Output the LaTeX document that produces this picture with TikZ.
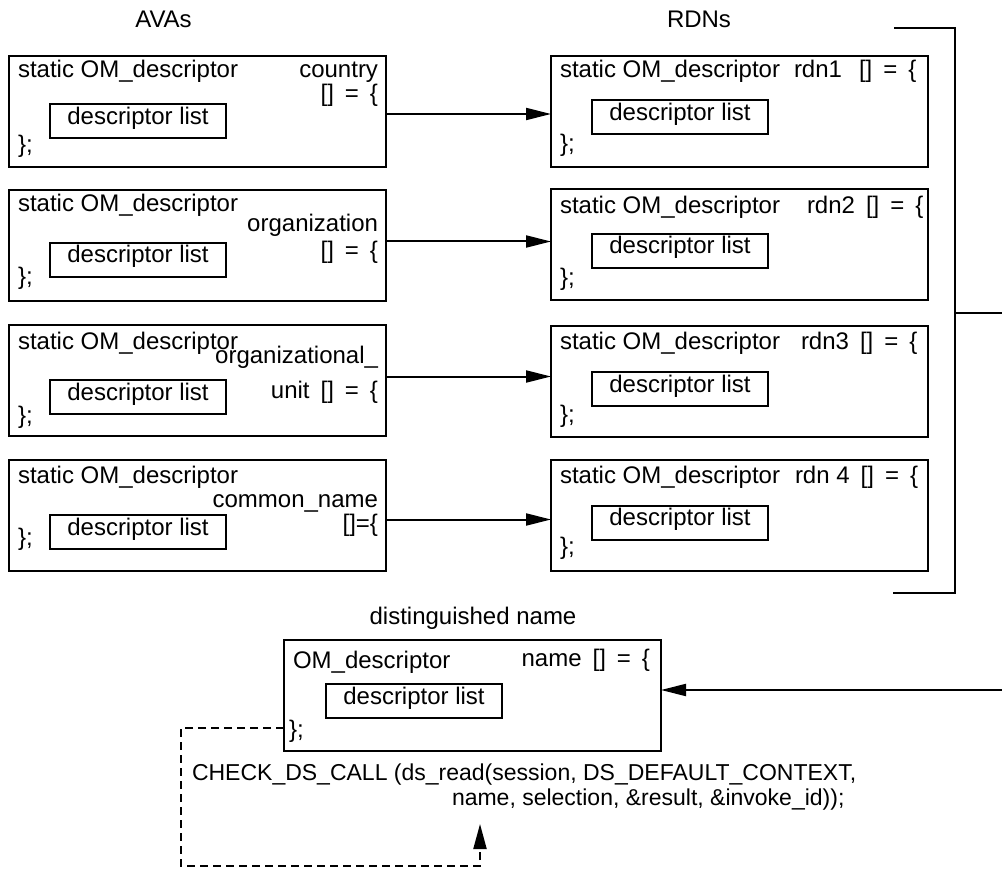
\documentclass[tikz,border=0pt]{standalone}
\usepackage{fontspec}
\setmainfont{Liberation Sans}
\usetikzlibrary{arrows.meta}
\newcommand\wsp{\hspace{11pt}}
\begin{document}
\begin{tikzpicture}[x=1pt,y=-1pt,
  every node/.style={font=\fontsize{24}{26}\selectfont},
  box/.style={draw, line width=2pt, inner sep=0pt, outer sep=0pt, anchor=north west, minimum width=377pt, minimum height=111pt},
  lst/.style={draw, line width=2pt, inner sep=0pt, outer sep=0pt, minimum width=176pt, minimum height=34pt, text height=17pt, text depth=11pt},
  tx/.style={inner sep=0pt, outer sep=0pt, text height=17pt, text depth=5pt},
  tl/.style={tx, anchor=west},
  tr/.style={tx, anchor=east},
  small/.style={font=\fontsize{23}{20}\selectfont},
  conn/.style={line width=2pt, -{Triangle[length=25pt,width=12pt]}},
  plain/.style={line width=2pt},
  dashline/.style={line width=2pt, dash pattern=on 8pt off 5pt, -{Triangle[length=25pt,width=13pt]}}
]
\useasboundingbox (0,0) rectangle (1002,869);

% headers
\node[tx] (hA) at (163.5,22) {AVAs};
\node[tx] (hR) at (699,22) {RDNs};
\node[tx] (hD) at (473,618) {distinguished name};

% ---------- left boxes (AVAs)
\node[box] (L1) at (9,56) {};
\node[tl] (L1a) at (18,72) {static OM\_descriptor};
\node[tr] (L1b) at (378,72) {country};
\node[tr] (L1c) at (378,96) {[]\wsp=\wsp\{};
\node[lst] (L1d) at (138,121.5) {descriptor list};
\node[tl] (L1e) at (18,147) {\};};

\node[box] (L2) at (9,190) {};
\node[tl] (L2a) at (18,206) {static OM\_descriptor};
\node[tr] (L2b) at (378,226) {organization};
\node[tr] (L2c) at (378,253) {[]\wsp=\wsp\{};
\node[lst] (L2d) at (138,260) {descriptor list};
\node[tl] (L2e) at (18,279) {\};};

\node[box] (L3) at (9,325) {};
\node[tl] (L3a) at (18,343) {static OM\_descriptor};
\node[tr] (L3b) at (378,357) {organizational\_};
\node[tr] (L3c) at (378,392) {unit\wsp[]\wsp=\wsp\{};
\node[lst] (L3d) at (138,397) {descriptor list};
\node[tl] (L3e) at (18,417) {\};};

\node[box] (L4) at (9,460) {};
\node[tl] (L4a) at (18,477) {static OM\_descriptor};
\node[tr] (L4b) at (378,501) {common\_name};
\node[tr] (L4c) at (378,525) {[]=\{};
\node[lst] (L4d) at (138,532) {descriptor list};
\node[tl] (L4e) at (18,539) {\};};

% ---------- right boxes (RDNs)
\node[box] (R1) at (551,56) {};
\node[tl] (R1a) at (560,72) {static OM\_descriptor};
\node[tl] (R1b) at (794,72) {rdn1\hspace{17pt}[]\wsp=\wsp\{};
\node[lst] (R1d) at (680,117.5) {descriptor list};
\node[tl] (R1e) at (560,146) {\};};

\node[box] (R2) at (551,189.5) {};
\node[tl] (R2a) at (560,208) {static OM\_descriptor};
\node[tl] (R2b) at (807,208) {rdn2\wsp[]\wsp=\wsp\{};
\node[lst] (R2d) at (680,251) {descriptor list};
\node[tl] (R2e) at (560,280) {\};};

\node[box] (R3) at (551,326) {};
\node[tl] (R3a) at (560,343) {static OM\_descriptor};
\node[tl] (R3b) at (801,343) {rdn3\wsp[]\wsp=\wsp\{};
\node[lst] (R3d) at (680,389) {descriptor list};
\node[tl] (R3e) at (560,416) {\};};

\node[box] (R4) at (551,460) {};
\node[tl] (R4a) at (560,477) {static OM\_descriptor};
\node[tl] (R4b) at (795,477) {rdn 4\wsp[]\wsp=\wsp\{};
\node[lst] (R4d) at (680,522.5) {descriptor list};
\node[tl] (R4e) at (560,548) {\};};

% ---------- distinguished name box
\node[box] (DN) at (284,640) {};
\node[tl] (DNa) at (293,662) {OM\_descriptor};
\node[tr] (DNb) at (650,660) {name\wsp[]\wsp=\wsp\{};
\node[lst] (DNd) at (414,701) {descriptor list};
\node[tl] (DNe) at (289,731) {\};};

\node[tx, small, anchor=base west] (chk1) at (192,780) {CHECK\_DS\_CALL (ds\_read(session, DS\_DEFAULT\_CONTEXT,};
\node[tx, small, anchor=base west] (chk2) at (452,805) {name, selection, \&result, \&invoke\_id));};

% ---------- connectors AVAs -> RDNs
\draw[conn] ([yshift=-2.5pt]L1.east) -- ([yshift=-2.5pt]L1.east -| R1.west);
\draw[conn] ([yshift=4pt]L2.east) -- ([yshift=4pt]L2.east -| R2.west);
\draw[conn] ([yshift=4pt]L3.east) -- ([yshift=4pt]L3.east -| R3.west);
\draw[conn] ([yshift=-4pt]L4.east) -- ([yshift=-4pt]L4.east -| R4.west);

% ---------- bracket
\coordinate (bt) at (894,28);
\coordinate (btc) at (955,28);
\coordinate (bbc) at (955,593);
\coordinate (bb) at (893,593);
\coordinate (bm) at (955,313);
\coordinate (bme) at (1002,313);
\coordinate (be) at (1002,690);
\draw[plain] (bt) -- (btc) -- (bbc) -- (bb);
\draw[plain] (bm) -- (bme);
\draw[conn] (be) -- ([yshift=5.5pt]DN.east);

% ---------- dashed loop
\coordinate (dl) at (181,866);
\coordinate (tip) at (480,824);
\draw[dashline] ([yshift=-32.5pt]DN.west) -| (dl) -| (tip);

\end{tikzpicture}
\end{document}
